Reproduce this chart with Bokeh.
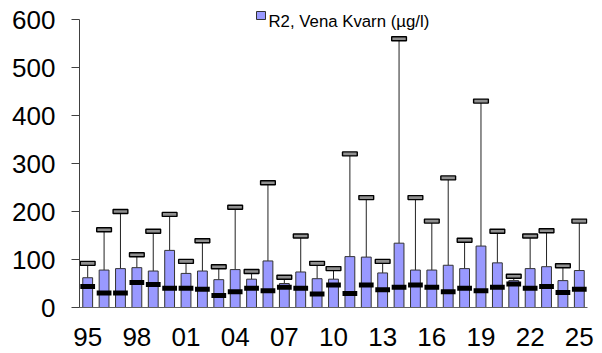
from bokeh.plotting import figure
from bokeh.models import (ColumnDataSource, FixedTicker, Range1d, Label, BoxAnnotation)
from bokeh.embed import file_html
from bokeh.resources import INLINE

years = ["95", "96", "97", "98", "99", "00", "01", "02", "03", "04", "05", "06", "07", "08", "09",
         "10", "11", "12", "13", "14", "15", "16", "17", "18", "19", "20", "21", "22", "23", "24", "25"]
bar_values = [62, 78, 81, 83, 76, 119, 71, 76, 58, 79, 59, 97, 50, 74, 60,
              59, 106, 105, 72, 134, 78, 78, 88, 81, 128, 93, 56, 81, 85, 56, 77]
median_values = [44, 30, 30, 52, 48, 40, 40, 38, 25, 33, 40, 35, 42, 40, 28,
                 47, 29, 47, 37, 42, 47, 42, 33, 40, 35, 42, 49, 40, 44, 31, 38]
max_values = [92, 162, 200, 110, 159, 194, 96, 139, 85, 209, 75, 260, 63, 149, 92,
              81, 320, 229, 96, 560, 229, 180, 270, 140, 430, 159, 65, 149, 160, 87, 180]
y_ticks = [0, 100, 200, 300, 400, 500, 600]
legend_label = "R2, Vena Kvarn (µg/l)"

xs = list(range(len(years)))
src = ColumnDataSource(dict(x=xs, bar=bar_values, med=median_values, mx=max_values))

FONT = "Liberation Sans"
BAR_COLOR = "#9999FF"

# frame extends 15px above the 600 line so the legend (inside the frame) is not clipped
PX_PER_UNIT = 288 / 600
TOP_PAD = 15
p = figure(frame_width=508, frame_height=288 + TOP_PAD, output_backend="svg", toolbar_location=None,
           x_range=Range1d(-0.5, len(years) - 0.5),
           y_range=Range1d(0, y_ticks[-1] + TOP_PAD / PX_PER_UNIT),
           min_border_left=79, min_border_right=14, min_border_top=4, min_border_bottom=46)
p.outline_line_color = None
p.xgrid.visible = False
p.ygrid.visible = False
p.background_fill_color = "white"
p.border_fill_color = "white"

# whiskers
p.segment(x0="x", y0="bar", x1="x", y1="mx", source=src, line_color="#222222", line_width=1)
# bars
bars = p.vbar(x="x", top="bar", bottom=0, width=0.6, source=src,
              fill_color=BAR_COLOR, line_color="#333333", line_width=1)
# caps
p.rect(x="x", y="mx", width=0.9, height=4, height_units="screen", source=src,
       fill_color="#909090", line_color="black", line_width=1.4)
# medians
p.rect(x="x", y="med", width=0.9, height=5, height_units="screen", source=src,
       fill_color="black", line_color=None)

# axes
p.yaxis.ticker = FixedTicker(ticks=y_ticks)
p.yaxis.bounds = (y_ticks[0], y_ticks[-1])
p.yaxis.minor_tick_line_color = None
p.yaxis.major_tick_out = 8
p.yaxis.major_tick_in = 0
p.yaxis.major_label_standoff = 16
p.yaxis.major_label_text_font = FONT
p.yaxis.major_label_text_font_size = "26px"
p.yaxis.major_label_text_color = "black"
p.yaxis.axis_line_color = "#404040"
p.yaxis.major_tick_line_color = "#404040"

tick_idx = list(range(0, len(years), 3))
p.xaxis.ticker = FixedTicker(ticks=tick_idx)
p.xaxis.major_label_overrides = {i: years[i] for i in tick_idx}
p.xaxis.minor_tick_line_color = None
p.xaxis.major_tick_out = 0
p.xaxis.major_tick_in = 0
p.xaxis.major_label_standoff = 20
p.xaxis.major_label_text_font = FONT
p.xaxis.major_label_text_font_size = "26px"
p.xaxis.major_label_text_color = "black"
p.xaxis.axis_line_color = "#606060"

# legend (swatch + text as annotations, placed at the top of the frame)
legend_swatch = BoxAnnotation(left=177, right=186, top=296, bottom=288,
                              left_units="screen", right_units="screen",
                              top_units="screen", bottom_units="screen",
                              fill_color=BAR_COLOR, fill_alpha=1.0,
                              line_color="#333333", line_width=1, line_alpha=1.0)
legend_text = Label(x=189, y=286, x_units="screen", y_units="screen", text=legend_label,
                    text_font=FONT, text_font_size="16.8px", text_align="left",
                    text_baseline="alphabetic", text_color="black")
p.add_layout(legend_swatch)
p.add_layout(legend_text)

stray = Label(x=-76, y=-44, x_units="screen", y_units="screen", text="5",
              text_font=FONT, text_font_size="26px", text_align="right",
              text_color="black")
p.add_layout(stray)

open("out.html", "w").write(file_html(p, INLINE))
